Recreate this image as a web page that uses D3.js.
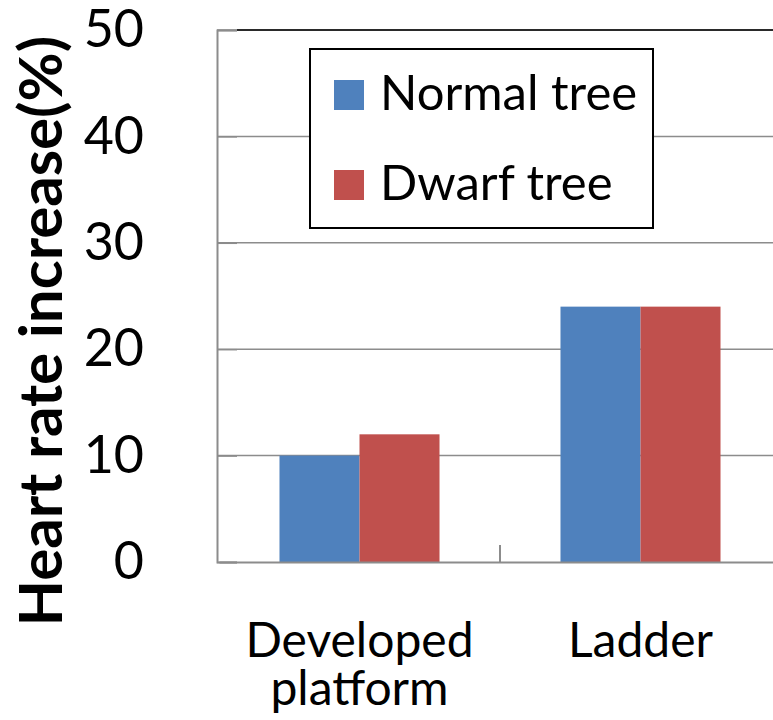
<!DOCTYPE html>
<html>
<head>
<meta charset="utf-8">
<script src="https://cdn.jsdelivr.net/npm/d3@7"></script>
<style>
  body { margin: 0; background: #fff; }
  svg { display: block; font-family: Lato, "Open Sans", sans-serif; }
</style>
</head>
<body>
<div id="chart"></div>
<script>
var categories = ["Developed platform", "Ladder"];
var series = ["Normal tree", "Dwarf tree"];
var normalTree = [10, 24];
var dwarfTree = [12, 24];
var yTicks = [0, 10, 20, 30, 40, 50];
var colors = ["#4f81bd", "#c0504d"];

var values = [normalTree, dwarfTree];
var w = 773, h = 720;
var mLeft = 217, mRight = 781, mTop = 30, mBottom = 562;

var svg = d3.select("#chart")
    .append("svg")
    .attr("width", w)
    .attr("height", h);

var y = d3.scaleLinear()
    .domain([0, 50])
    .range([mBottom, mTop]);

var x0 = d3.scaleBand()
    .domain(categories)
    .range([mLeft + 2, mRight]);

var x1 = d3.scaleBand()
    .domain(series)
    .range([0, x0.bandwidth()])
    .paddingInner(0)
    .paddingOuter(0.756);

// gridlines
svg.append("g")
    .selectAll("line")
    .data(yTicks.filter(function(d) { return d > 0; }))
    .enter().append("line")
    .attr("x1", mLeft)
    .attr("x2", w)
    .attr("y1", function(d) { return y(d); })
    .attr("y2", function(d) { return y(d); })
    .style("stroke", "#8c8c8c")
    .style("stroke-width", 1.5);

// top border of plot area
svg.append("line")
    .attr("x1", mLeft + 20).attr("x2", w)
    .attr("y1", y(50)).attr("y2", y(50))
    .style("stroke", "#000")
    .style("stroke-width", 1.5);

// bars
var groups = svg.append("g")
    .selectAll("g")
    .data(categories)
    .enter().append("g")
    .attr("transform", function(d) { return "translate(" + x0(d) + ",0)"; });

groups.selectAll("rect")
    .data(function(d, i) {
        return series.map(function(s, j) { return {s: s, v: values[j][i], c: colors[j]}; });
    })
    .enter().append("rect")
    .attr("x", function(d) { return x1(d.s); })
    .attr("width", x1.bandwidth())
    .attr("y", function(d) { return y(d.v); })
    .attr("height", function(d) { return y(0) - y(d.v); })
    .style("fill", function(d) { return d.c; });

// y axis
var yAxis = d3.axisLeft(y)
    .tickValues(yTicks)
    .tickSize(-20)
    .tickPadding(73);

var ya = svg.append("g")
    .attr("transform", "translate(" + mLeft + ",0)")
    .call(yAxis);
ya.select(".domain").style("stroke", "#8c8c8c").style("stroke-width", 2);
ya.selectAll(".tick line").style("stroke", "#8c8c8c").style("stroke-width", 1.5);
ya.selectAll(".tick text")
    .style("font-size", "52px")
    .style("fill", "#000")
    .style("font-family", "Lato, sans-serif");

// x axis
var xa = svg.append("g")
    .attr("transform", "translate(0," + mBottom + ")")
    .call(d3.axisBottom(x0).tickSize(0).tickFormat(""));
xa.select(".domain").style("stroke", "#8c8c8c").style("stroke-width", 2);

// category separator tick
svg.append("line")
    .attr("x1", x0(categories[1])).attr("x2", x0(categories[1]))
    .attr("y1", mBottom - 17).attr("y2", mBottom)
    .style("stroke", "#8c8c8c")
    .style("stroke-width", 2);

// category labels, one text per line
categories.forEach(function(c) {
    var words = c === "Developed platform" ? ["Developed", "platform"] : [c];
    words.forEach(function(wd, i) {
        svg.append("text")
            .attr("text-anchor", "middle")
            .style("font-size", "48px")
            .attr("x", x0(c) + x0.bandwidth() / 2)
            .attr("y", 657 + i * 48)
            .text(wd);
    });
});

// y title
svg.append("text")
    .attr("transform", "translate(62,331) rotate(-90)")
    .attr("text-anchor", "middle")
    .style("font-size", "60px")
    .style("font-weight", "bold")
    .text("Heart rate increase(%)");

// legend
var lg = svg.append("g");
lg.append("rect")
    .attr("x", 310).attr("y", 49)
    .attr("width", 343).attr("height", 179)
    .style("fill", "#fff")
    .style("stroke", "#000")
    .style("stroke-width", 2);

var items = lg.selectAll(".item")
    .data(series)
    .enter().append("g")
    .attr("class", "item")
    .attr("transform", function(d, i) { return "translate(334," + (80 + i * 90) + ")"; });

items.append("rect")
    .attr("width", 30).attr("height", 30)
    .style("fill", function(d, i) { return colors[i]; });

items.append("text")
    .attr("x", 46)
    .attr("y", 30)
    .style("font-size", "49px")
    .text(function(d) { return d; });
</script>
</body>
</html>
